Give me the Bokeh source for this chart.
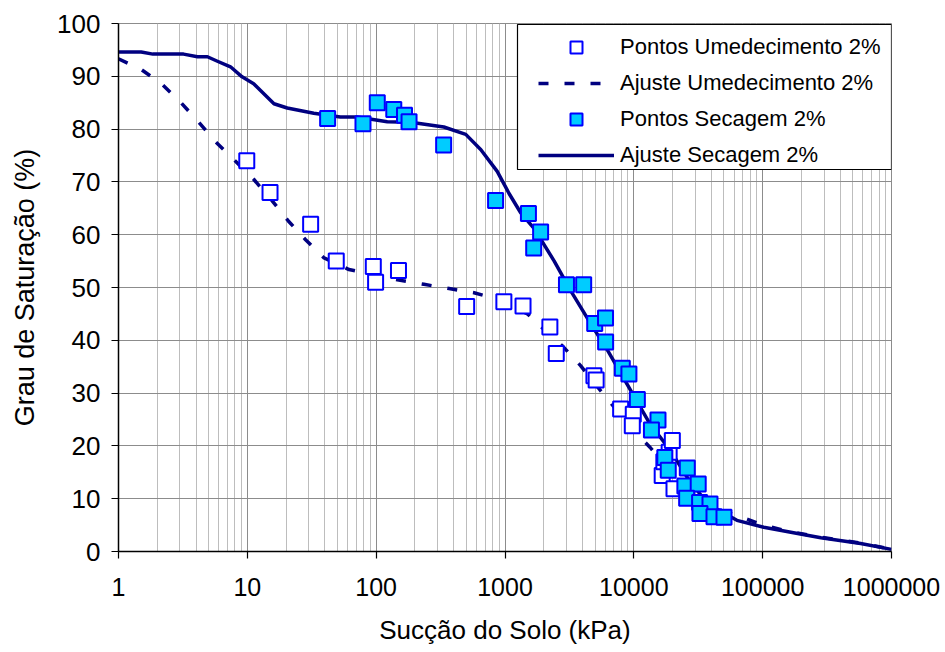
from bokeh.plotting import figure
from bokeh.models import (FixedTicker, Legend, LegendItem, BoxAnnotation, Range1d)
from bokeh.embed import file_html
from bokeh.resources import INLINE

# ---------------- data ----------------
# Pontos Umedecimento 2% (wetting points)
um_x = [9.9, 15, 31, 49, 95, 99, 149, 504, 980, 1380, 2230, 2500, 4900, 5100,
        7900, 9900, 9730, 16600, 17100, 18800, 19900, 20500]
um_y = [74, 68, 62, 55, 54, 51, 53.2, 46.4, 47.3, 46.5, 42.5, 37.5, 33.3, 32.5,
        27, 26, 23.8, 14.4, 17, 18.8, 21, 11.9]

# Pontos Secagem 2% (drying points)
se_x = [42, 79, 102, 137, 166, 180, 334, 845, 1520, 1890, 1670, 3000, 4080, 4970,
        6030, 6040, 8140, 9160, 10650, 15400, 13700, 17400, 18500, 26000, 24900,
        31600, 25700, 32400, 39000, 32600, 41900, 50100]
se_y = [82, 81, 85, 83.7, 82.6, 81.4, 77, 66.5, 64, 60.5, 57.5, 50.5, 50.5, 43.2,
        44.2, 39.7, 34.7, 33.6, 28.8, 24.9, 23, 17.8, 15.4, 15.8, 12.4,
        12.8, 10.1, 9.3, 9, 7.2, 6.6, 6.5]

# Ajuste Secagem 2% (drying fit)
sf_x = [1, 1.5, 1.85, 3.2, 4.1, 4.9, 5.8, 7.4, 9.1, 11.2, 16.1, 20.4, 32.8, 52.7,
        71, 122, 185, 335, 496, 650, 870, 1075, 1320, 1680, 2410, 3250, 4660,
        6290, 8860, 13400, 19300, 26000, 37500, 63100, 102000, 196000, 283000,
        576000, 1000000]
sf_y = [94.6, 94.6, 94.2, 94.2, 93.7, 93.7, 92.9, 91.8, 89.9, 88.6, 84.8, 84.0,
        83.0, 82.3, 82.3, 81.4, 81.3, 80.4, 79.0, 76.1, 72.0, 67.8, 64.2, 61.2,
        55.0, 49.3, 43.0, 38.0, 31.7, 24.1, 19.1, 14.0, 9.0, 5.9, 4.6, 3.3, 2.6,
        1.5, 0.4]

# Ajuste Umedecimento 2% (wetting fit)
uf_x = [1, 1.48, 2.18, 3.03, 4.2, 5.66, 8.1, 11.2, 15.6, 20.8, 28.2, 39.4, 61.5,
        150, 235, 368, 575, 872, 1495, 1940, 2800, 3860, 5500, 7800, 10000, 13400,
        20000, 30000, 45000, 63000, 96000, 146000, 283000, 576000, 1000000]
uf_y = [93.3, 91.4, 88.5, 85.1, 81.3, 77.6, 73.9, 70.5, 66.4, 62.6, 59.1, 55.6,
        53.4, 51.4, 50.6, 49.8, 49.0, 47.8, 45.0, 42.4, 38.9, 35.2, 30.5, 26.0,
        22.8, 19.7, 14.5, 10.5, 8.0, 6.8, 5.2, 4.0, 2.7, 1.6, 0.4]

x_ticks = [1, 10, 100, 1000, 10000, 100000, 1000000]
x_tick_labels = ["1", "10", "100", "1000", "10000", "100000", "1000000"]
y_ticks = [0, 10, 20, 30, 40, 50, 60, 70, 80, 90, 100]

legend_labels = ["Pontos Umedecimento 2%", "Ajuste Umedecimento 2%",
                 "Pontos Secagem 2%", "Ajuste Secagem 2%"]
x_title = "Sucção do Solo (kPa)"
y_title = "Grau de Saturação (%)"

FONT = "Liberation Sans"
NAVY = "#000080"

p = figure(width=945, height=652, x_axis_type="log",
           x_range=Range1d(1, 1e6), y_range=Range1d(0, 100),
           output_backend="svg", toolbar_location=None,
           min_border_left=118, min_border_right=54,
           min_border_top=23, min_border_bottom=101)
p.background_fill_color = "white"
p.border_fill_color = "white"
p.outline_line_color = "#8c8c8c"

minor = [k * 10 ** d for d in range(6) for k in range(2, 10)]
p.xaxis.ticker = FixedTicker(ticks=x_ticks, minor_ticks=minor)
p.xaxis.major_label_overrides = {t: l for t, l in zip(x_ticks, x_tick_labels)}
p.yaxis.ticker = FixedTicker(ticks=y_ticks)

for ax in (p.xaxis, p.yaxis):
    ax.axis_line_color = "black"
    ax.axis_line_width = 1.5
    ax.major_tick_line_color = "black"
    ax.major_tick_line_width = 1.2
    ax.major_tick_out = 7
    ax.major_tick_in = 0
    ax.minor_tick_out = 0
    ax.minor_tick_in = 0
    ax.major_label_text_font = FONT
    ax.major_label_text_color = "black"
    ax.axis_label_text_font = FONT
    ax.axis_label_text_font_style = "normal"
    ax.axis_label_text_color = "black"

p.xaxis.major_label_text_font_size = "25px"
p.yaxis.major_label_text_font_size = "26px"
p.xaxis.axis_label = x_title
p.xaxis.axis_label_text_font_size = "26px"
p.xaxis.major_label_standoff = 19
p.xaxis.axis_label_standoff = 16
p.yaxis.axis_label = y_title
p.yaxis.axis_label_text_font_size = "27px"
p.yaxis.major_label_standoff = 11
p.yaxis.axis_label_standoff = 14

p.xgrid.grid_line_color = "#8c8c8c"
p.xgrid.grid_line_width = 1
p.xgrid.minor_grid_line_color = "#bdbdbd"
p.xgrid.minor_grid_line_width = 1
p.ygrid.grid_line_color = "#8c8c8c"
p.ygrid.grid_line_width = 1

r_uf = p.line(uf_x, uf_y, line_color=NAVY, line_width=3.5, line_dash="10 16")
r_sf = p.line(sf_x, sf_y, line_color=NAVY, line_width=3.5, line_join="round")
r_um = p.scatter(um_x, um_y, marker="square", size=15, fill_color="white",
                 line_color="#0000FF", line_width=2)
r_se = p.scatter(se_x, se_y, marker="square", size=15, fill_color="#00CCFF",
                 line_color="#0000FF", line_width=2)

box = BoxAnnotation(left=517, right=891, top=24, bottom=169,
                    left_units="canvas", right_units="canvas",
                    top_units="canvas", bottom_units="canvas",
                    fill_color="white", fill_alpha=1.0,
                    line_color="black", line_width=1.2, line_alpha=1.0)
p.add_layout(box)

legend = Legend(items=[
    LegendItem(label=legend_labels[0], renderers=[r_um]),
    LegendItem(label=legend_labels[1], renderers=[r_uf]),
    LegendItem(label=legend_labels[2], renderers=[r_se]),
    LegendItem(label=legend_labels[3], renderers=[r_sf]),
], location=(420, 381))
legend.border_line_color = None
legend.background_fill_alpha = 0
legend.padding = 4
legend.margin = 0
legend.spacing = 6
legend.glyph_width = 76
legend.glyph_height = 30
legend.label_height = 30
legend.label_standoff = 6
legend.label_text_font = FONT
legend.label_text_font_size = "22px"
legend.label_text_color = "black"
p.add_layout(legend, "center")

open("out.html", "w").write(file_html(p, INLINE))
